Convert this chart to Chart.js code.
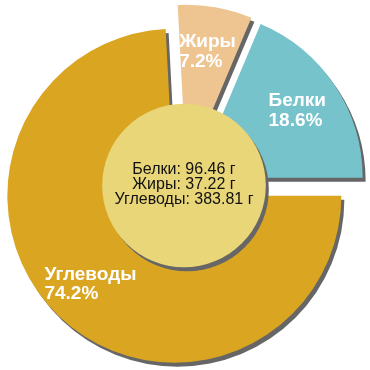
<!DOCTYPE html>
<html>
<head>
<meta charset="utf-8">
<script src="https://cdn.jsdelivr.net/npm/chart.js@4"></script>
<style>
  body { margin: 0; background: #fff; }
  canvas { display: block; }
</style>
</head>
<body>
<canvas id="pie" width="370" height="370"></canvas>
<script>
// values, drawn clockwise starting at 3 o'clock
const names = ["Углеводы", "Жиры", "Белки"];
const grams = [383.81, 37.22, 96.46];
const colors = ["#daa520", "#eec591", "#77c3cb"];
const centerLines = ["Белки: 96.46 г", "Жиры: 37.22 г", "Углеводы: 383.81 г"];

const total = grams.reduce((a, b) => a + b, 0);
const pct = grams.map(g => (g / total * 100).toFixed(1) + "%");

const explode = 14;      // px each slice is pulled out
const holeRatio = 0.49;  // centre disc radius / outer radius
const labelRatio = 0.73; // label distance / outer radius

const deco = {
  id: "deco",
  afterDatasetUpdate(chart, args) {
    chart.getDatasetMeta(args.index).data.forEach(arc => {
      const mid = (arc.startAngle + arc.endAngle) / 2;
      arc.x += Math.cos(mid) * explode;
      arc.y += Math.sin(mid) * explode;
    });
  },
  beforeDatasetsDraw(chart) {
    const ctx = chart.ctx;
    ctx.save();
    ctx.shadowColor = "#666";
    ctx.shadowOffsetX = 3;
    ctx.shadowOffsetY = 4;
    ctx.shadowBlur = 0;
  },
  afterDatasetsDraw(chart) {
    const ctx = chart.ctx;
    const arcs = chart.getDatasetMeta(0).data;
    const cx = (chart.chartArea.left + chart.chartArea.right) / 2;
    const cy = (chart.chartArea.top + chart.chartArea.bottom) / 2;
    const R = arcs[0].outerRadius;

    // centre disc
    ctx.beginPath();
    ctx.arc(cx, cy, R * holeRatio, 0, Math.PI * 2);
    ctx.fillStyle = "#e8d679";
    ctx.fill();
    ctx.restore();

    // slice labels
    ctx.save();
    ctx.font = "bold 19px 'Liberation Sans', Arial, sans-serif";
    ctx.fillStyle = "#fff";
    ctx.textBaseline = "middle";
    ctx.textAlign = "left";
    arcs.forEach((arc, i) => {
      const mid = (arc.startAngle + arc.endAngle) / 2;
      const ax = arc.x + Math.cos(mid) * R * labelRatio;
      const ay = arc.y + Math.sin(mid) * R * labelRatio;
      const lines = [names[i], pct[i]];
      const w = Math.max(...lines.map(t => ctx.measureText(t).width));
      ctx.fillText(lines[0], ax - w / 2, ay - 9.5);
      ctx.fillText(lines[1], ax - w / 2, ay + 10);
    });

    // centre text
    ctx.font = "16px 'Liberation Sans', Arial, sans-serif";
    ctx.fillStyle = "#111";
    ctx.textAlign = "center";
    centerLines.forEach((t, i) => {
      ctx.fillText(t, cx, cy - 16 + i * 15);
    });
    ctx.restore();
  }
};

new Chart(document.getElementById("pie"), {
  type: "pie",
  data: {
    labels: names,
    datasets: [{
      data: grams,
      backgroundColor: colors,
      borderWidth: 0
    }]
  },
  options: {
    responsive: false,
    animation: false,
    rotation: 90,
    layout: { padding: { left: 17, right: 19, top: 18, bottom: 17 } },
    plugins: {
      legend: { display: false },
      tooltip: { enabled: false }
    }
  },
  plugins: [deco]
});
</script>
</body>
</html>
